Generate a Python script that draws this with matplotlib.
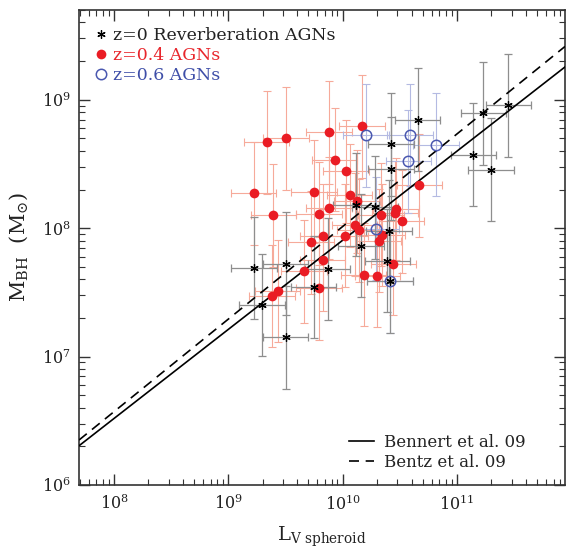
import matplotlib
matplotlib.use('Agg')
import matplotlib.pyplot as plt
import numpy as np

plt.rcParams['font.family'] = ['DejaVu Serif']
plt.rcParams['mathtext.fontset'] = 'dejavuserif'

# log10 values
# z=0.4 AGNs (red filled circles)
red_logL = [9.334, 9.505, 9.881, 10.172, 9.929, 10.030, 9.220, 9.747, 10.060, 10.123,
            9.394, 9.794, 9.881, 10.332, 10.465, 10.459, 10.515, 10.104, 10.146, 10.021,
            9.831, 10.342, 10.314, 9.722, 9.824, 9.662, 10.444, 10.183, 10.304, 9.795,
            9.430, 9.380, 10.671]
red_logM = [8.669, 8.700, 8.746, 8.792, 8.533, 8.444, 8.272, 8.284, 8.255, 8.209,
            8.100, 8.113, 8.157, 8.105, 8.149, 8.121, 8.054, 8.027, 7.983, 7.942,
            7.942, 7.947, 7.903, 7.890, 7.753, 7.665, 7.721, 7.638, 7.630, 7.532,
            7.510, 7.471, 8.333]

# z=0.6 AGNs (blue open circles)
blue_logL = [10.205, 10.590, 10.817, 10.575, 10.290, 10.415]
blue_logM = [8.722, 8.725, 8.650, 8.520, 7.996, 7.586]

# z=0 reverberation AGNs (black asterisks)
blk_logL = [11.450, 11.231, 11.144, 11.296, 10.655, 10.423, 10.423, 10.117, 10.283, 10.406,
            10.161, 10.391, 10.415, 9.225, 9.500, 9.868, 9.745, 9.292, 9.500]
blk_logM = [8.956, 8.895, 8.572, 8.455, 8.844, 8.654, 8.463, 8.183, 8.163, 7.975,
            7.864, 7.747, 7.586, 7.690, 7.724, 7.682, 7.541, 7.402, 7.150]

# errors in dex
err_logL = 0.2
err_logM = 0.4

# local relations: log M = a + b * (log L - 10)
bennert_a, bennert_b = 7.906, 0.694
bentz_a, bentz_b = 8.013, 0.721


def to_lin(lx, ly):
    lx = np.array(lx)
    ly = np.array(ly)
    x = 10**lx
    y = 10**ly
    xe = [x - 10**(lx - err_logL), 10**(lx + err_logL) - x]
    ye = [y - 10**(ly - err_logM), 10**(ly + err_logM) - y]
    return x, y, xe, ye


fig = plt.figure(figsize=(5.66, 5.49), dpi=100)
ax = fig.add_axes([79/566, 64/549, 486/566, 475/549])
ax.set_xscale('log')
ax.set_yscale('log')
xmin, xmax = 4.94e7, 8.8e11
ax.set_xlim(xmin, xmax)
ax.set_ylim(1e6, 5.0e9)

rx, ry, rxe, rye = to_lin(red_logL, red_logM)
bx, by, bxe, bye = to_lin(blue_logL, blue_logM)
kx, ky, kxe, kye = to_lin(blk_logL, blk_logM)

ax.errorbar(rx, ry, xerr=rxe, yerr=rye, fmt='none', ecolor='#f6aa9a', elinewidth=0.8,
            capsize=3, capthick=0.8, zorder=1)
ax.errorbar(bx, by, xerr=bxe, yerr=bye, fmt='none', ecolor='#b4bae2', elinewidth=0.8,
            capsize=3, capthick=0.8, zorder=1.5)
ax.errorbar(kx, ky, xerr=kxe, yerr=kye, fmt='none', ecolor='#8e8e8e', elinewidth=0.9,
            capsize=3, capthick=0.9, zorder=2)

# relations
lgrid = np.linspace(np.log10(xmin), np.log10(xmax), 50)
l1, = ax.plot(10**lgrid, 10**(bennert_a + bennert_b*(lgrid - 10)), '-', color='k', lw=1.2, zorder=3)
l2, = ax.plot(10**lgrid, 10**(bentz_a + bentz_b*(lgrid - 10)), '--', color='k', lw=1.2,
              dashes=(6, 4), zorder=3)

p_red, = ax.plot(rx, ry, 'o', color='#ea1c24', ms=7, mec='none', zorder=4)
p_blue, = ax.plot(bx, by, 'o', mfc='none', mec='#4a58b0', ms=7.5, mew=1.1, zorder=4.5)
p_blk, = ax.plot(kx, ky, marker=(6, 2, 0), ls='none', color='k', ms=6, mew=0.9, zorder=5)

leg1 = ax.legend([p_blk, p_red, p_blue], ['z=0 Reverberation AGNs', 'z=0.4 AGNs', 'z=0.6 AGNs'],
                 loc='upper left', bbox_to_anchor=(0.035, 0.965), frameon=False, fontsize=12.5,
                 handlelength=0.6, handletextpad=0.35, labelspacing=0.18, borderaxespad=0,
                 borderpad=0, labelcolor=['#222222', '#e8262c', '#3e4ea8'])
ax.add_artist(leg1)
ax.legend([l1, l2], ['Bennert et al. 09', 'Bentz et al. 09'], loc='lower left',
          bbox_to_anchor=(0.556, 0.03), frameon=False, fontsize=12, handlelength=1.5,
          handletextpad=0.6, labelspacing=0.18, borderaxespad=0, borderpad=0,
          labelcolor='#222222')

ax.tick_params(which='both', direction='in', top=True, right=True, colors='#333333',
               labelcolor='#222222')
ax.tick_params(which='major', length=8, width=1.0, labelsize=11.5)
ax.tick_params(which='minor', length=4, width=0.8)
ax.tick_params(axis='x', which='major', pad=7)
ax.tick_params(axis='y', which='major', pad=6)
for s in ax.spines.values():
    s.set_color('#333333')
    s.set_linewidth(1.2)

ax.set_xlabel(r'L$_{\rm V\ spheroid}$', fontsize=14, color='#222222')
ax.set_ylabel(r'M$_{\rm BH}$  (M$_{\odot}$)', fontsize=15, color='#222222')
ax.xaxis.set_label_coords(0.5, -0.083)
ax.yaxis.set_label_coords(-0.1, 0.5)

fig.savefig('out.png', dpi=100)
